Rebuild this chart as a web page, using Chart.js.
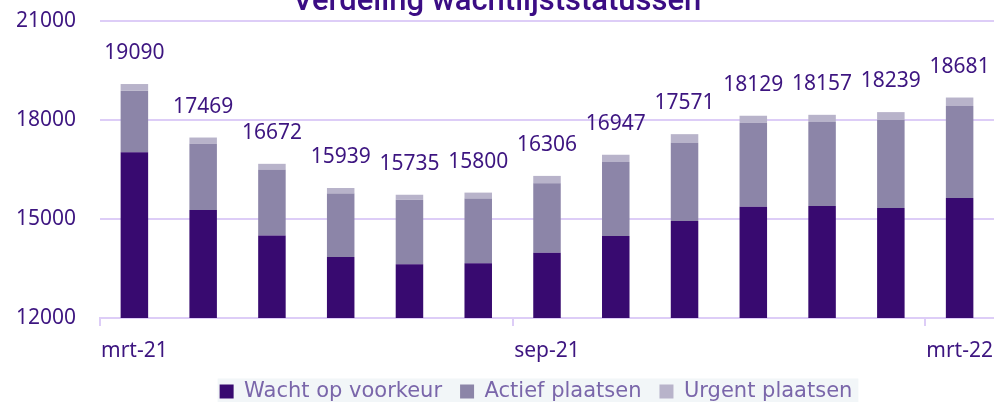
<!DOCTYPE html>
<html lang="nl">
<head>
<meta charset="utf-8">
<title>Verdeling wachtlijststatussen</title>
<script src="https://cdn.jsdelivr.net/npm/chart.js@4.4.1/dist/chart.umd.min.js"></script>
<style>
  html, body { margin: 0; padding: 0; background: #fff; overflow: hidden; }
  #wrap { position: relative; width: 994px; height: 412px; }
</style>
</head>
<body>
<div id="wrap"><canvas id="wachtlijstChart"></canvas></div>
<script>
// maanden (alleen 0, 6 en 12 krijgen een label op de as)
const maanden = ['mrt-21', 'apr-21', 'mei-21', 'jun-21', 'jul-21', 'aug-21', 'sep-21',
                 'okt-21', 'nov-21', 'dec-21', 'jan-22', 'feb-22', 'mrt-22'];
const wachtOpVoorkeur = [17020, 15270, 14500, 13850, 13630, 13660, 13980, 14485, 14940, 15375, 15395, 15335, 15640];
const actiefPlaatsen  = [1870, 2010, 1990, 1920, 1955, 1960, 2100, 2240, 2370, 2535, 2545, 2665, 2785];
const urgentPlaatsen  = [200, 189, 182, 169, 150, 180, 226, 222, 261, 219, 217, 239, 256];
const totalen         = [19090, 17469, 16672, 15939, 15735, 15800, 16306, 16947, 17571, 18129, 18157, 18239, 18681];
const yTicks = [12000, 15000, 18000, 21000];
const xLabelIndex = [0, 6, 12];

const tekstKleur = '#3d1580';
const rasterKleur = '#ddcdf7';

// titel staat half buiten beeld, net als in het origineel
const titelPlugin = {
  id: 'titel',
  afterDraw(chart) {
    const ctx = chart.ctx;
    ctx.save();
    ctx.font = '500 31px Roboto';
    ctx.fillStyle = '#3b0d84';
    ctx.textAlign = 'center';
    ctx.textBaseline = 'alphabetic';
    ctx.fillText('Verdeling wachtlijststatussen', 497, 10);
    ctx.restore();
  }
};

// totaal boven elke staaf
const totaalLabels = {
  id: 'totaalLabels',
  afterDatasetsDraw(chart) {
    const ctx = chart.ctx;
    const meta = chart.getDatasetMeta(chart.data.datasets.length - 1);
    ctx.save();
    ctx.font = '21px "Noto Sans"';
    ctx.fillStyle = tekstKleur;
    ctx.textAlign = 'center';
    ctx.textBaseline = 'alphabetic';
    meta.data.forEach((bar, i) => {
      ctx.fillText(totalen[i], bar.x, bar.y - 25);
    });
    ctx.restore();
  }
};

// legenda iets naar links, en een lichte achtergrond erachter
const legendaAchtergrond = {
  id: 'legendaAchtergrond',
  afterLayout(chart) {
    chart.legend.left -= 11;
    chart.legend.right -= 11;
  },
  beforeDraw(chart) {
    const boxes = chart.legend && chart.legend.legendHitBoxes;
    if (!boxes || !boxes.length) return;
    const ctx = chart.ctx;
    const last = boxes[boxes.length - 1];
    const left = boxes[0].left - 2;
    const right = last.left + last.width + 6;
    const mid = boxes[0].top + boxes[0].height / 2;
    ctx.save();
    ctx.fillStyle = '#f2f6f8';
    ctx.fillRect(left, mid - 13, right - left, 24);
    ctx.restore();
  }
};

const ctx = document.getElementById('wachtlijstChart').getContext('2d');
new Chart(ctx, {
  type: 'bar',
  data: {
    labels: maanden,
    datasets: [
      { label: 'Wacht op voorkeur', data: wachtOpVoorkeur, backgroundColor: '#380a70' },
      { label: 'Actief plaatsen', data: actiefPlaatsen, backgroundColor: '#8c85a8' },
      { label: 'Urgent plaatsen', data: urgentPlaatsen, backgroundColor: '#b8b3ca' },
    ],
  },
  options: {
    responsive: true,
    maintainAspectRatio: false,
    animation: false,
    layout: { padding: { top: 21, left: 0, right: 0, bottom: 0 } },
    datasets: { bar: { barPercentage: 0.4, categoryPercentage: 1 } },
    scales: {
      x: {
        stacked: true,
        grid: {
          offset: true,
          drawOnChartArea: false,
          drawTicks: true,
          tickLength: 8,
          lineWidth: 2,
          color: (c) => xLabelIndex.includes(c.index) ? rasterKleur : 'rgba(0,0,0,0)',
        },
        border: { display: true, color: rasterKleur, width: 2 },
        ticks: {
          autoSkip: false,
          maxRotation: 0,
          padding: 12,
          color: tekstKleur,
          font: { family: 'Noto Sans', size: 21 },
          callback: (v, i) => xLabelIndex.includes(i) ? maanden[i] : '',
        },
        afterFit: (s) => { s.height = 45; s.paddingLeft = 0; s.paddingRight = 0; },
      },
      y: {
        stacked: true,
        min: 12000,
        max: 21000,
        afterBuildTicks: (s) => { s.ticks = yTicks.map(v => ({ value: v })); },
        grid: { color: rasterKleur, lineWidth: 2, drawTicks: false },
        border: { display: false },
        ticks: {
          padding: 24,
          color: tekstKleur,
          font: { family: 'Noto Sans', size: 21 },
          callback: (v) => String(v),
        },
        afterFit: (s) => { s.width = 100; s.paddingTop = 0; s.paddingBottom = 0; },
      },
    },
    plugins: {
      legend: {
        position: 'bottom',
        fullSize: false,
        labels: {
          boxWidth: 14,
          boxHeight: 14,
          padding: 18,
          color: '#7a66aa',
          font: { family: 'DejaVu Sans', size: 21 },
        },
      },
      tooltip: { enabled: false },
    },
  },
  plugins: [legendaAchtergrond, titelPlugin, totaalLabels],
});
</script>
</body>
</html>
